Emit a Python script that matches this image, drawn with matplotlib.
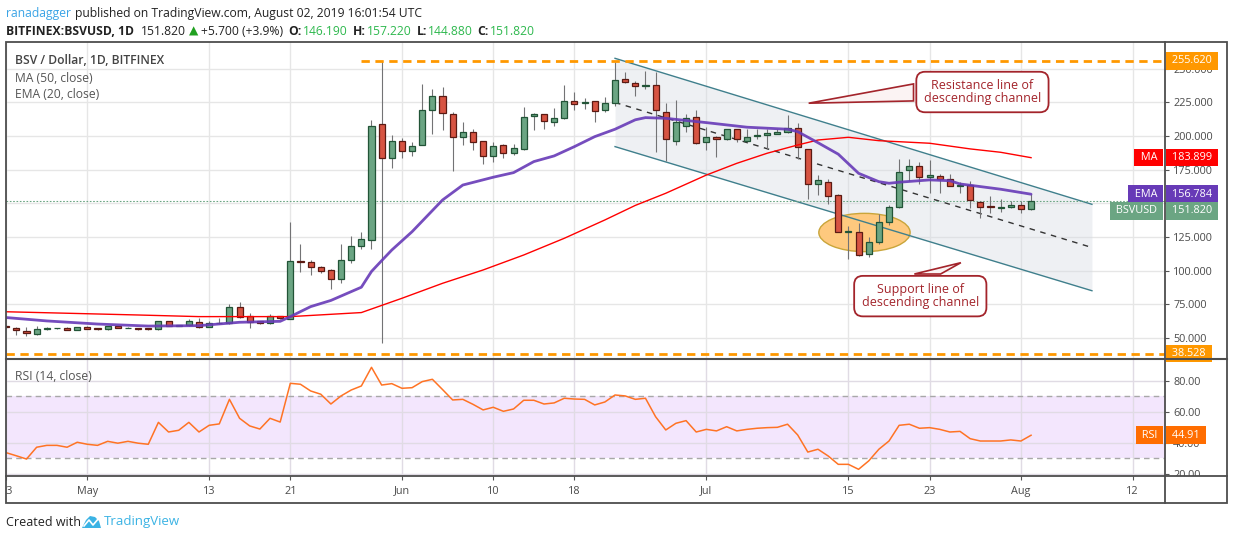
import matplotlib
matplotlib.use("Agg")
import matplotlib.pyplot as plt
import matplotlib.dates as mdates
from matplotlib.patches import Ellipse, Polygon, Rectangle
from matplotlib.ticker import FixedLocator, FixedFormatter, FormatStrFormatter
from matplotlib.transforms import Bbox, IdentityTransform, TransformedBbox
import numpy as np
import pandas as pd

plt.rcParams['font.family'] = ['Open Sans', 'DejaVu Sans']

# ─────────────────────────────────────────────
# DATA: BSV/USD daily candles (Bitfinex), Apr 23 .. Aug 2 2019
# ─────────────────────────────────────────────
dates = pd.date_range('2019-04-23', '2019-08-02', freq='D')

opens = [59.0, 57.6, 55.3, 52.8, 56.6, 57.3, 57.6, 56.4, 58.6, 57.6,
         56.6, 58.8, 57.5, 57.3, 57.6, 56.6, 62.5, 59.0, 59.5, 61.7,
         58.4, 61.0, 61.0, 73.0, 66.3, 62.5, 61.0, 66.3, 64.5, 107.2,
         106.3, 102.6, 100.4, 93.7, 107.8, 118.2, 122.6, 208.7, 183.5, 196.0,
         188.6, 193.0, 219.0, 230.0, 216.0, 199.0, 202.7, 196.0, 184.9, 193.5,
         187.2, 190.0, 214.6, 216.1, 210.2, 213.1, 225.7, 224.3, 225.7, 219.0,
         224.3, 242.0, 239.1, 237.1, 237.6, 217.6, 196.0, 207.2, 214.3, 195.3,
         199.5, 197.6, 205.0, 196.0, 200.3, 200.5, 201.5, 202.7, 205.7, 190.1,
         164.2, 166.1, 156.0, 128.8, 129.0, 112.2, 121.1, 136.0, 147.1, 174.6,
         178.0, 169.4, 170.3, 168.1, 162.9, 163.6, 151.3, 147.9, 146.4, 147.1,
         148.6, 146.19]
highs = [59.5, 58.0, 58.3, 58.8, 58.0, 57.8, 58.0, 58.6, 59.0, 57.9,
         59.3, 59.2, 58.0, 57.6, 57.9, 63.0, 62.8, 59.9, 64.0, 65.2,
         62.8, 65.2, 75.7, 76.5, 68.5, 62.8, 68.0, 66.6, 136.0, 119.9,
         108.3, 103.8, 101.6, 119.9, 125.6, 128.8, 211.6, 255.62, 200.7, 198.4,
         195.5, 238.6, 234.6, 236.1, 218.0, 210.4, 205.0, 196.5, 195.5, 193.8,
         193.8, 221.3, 217.4, 216.5, 220.5, 237.8, 232.4, 228.0, 226.0, 229.0,
         255.0, 247.5, 241.0, 248.0, 247.5, 224.5, 226.7, 216.1, 219.0, 206.5,
         199.8, 205.3, 205.3, 205.0, 205.0, 205.0, 205.5, 215.6, 209.4, 190.3,
         170.8, 167.8, 157.0, 133.2, 135.7, 125.3, 142.1, 148.6, 183.2, 183.0,
         180.7, 182.2, 171.8, 171.8, 165.7, 166.5, 151.5, 155.7, 153.0, 151.8,
         151.8, 157.22]
lows = [57.5, 52.4, 51.6, 52.5, 56.4, 57.0, 56.0, 56.2, 56.8, 56.3,
        56.4, 57.5, 57.2, 56.3, 56.3, 56.4, 58.8, 58.8, 59.3, 57.5,
        58.2, 60.8, 60.8, 65.0, 57.5, 60.8, 60.8, 64.0, 64.0, 99.3,
        96.6, 98.3, 86.7, 90.7, 105.8, 115.9, 115.9, 46.7, 176.5, 184.0,
        184.9, 193.0, 201.7, 204.7, 174.3, 193.5, 189.8, 179.5, 181.0, 183.5,
        186.0, 189.8, 204.2, 205.4, 207.6, 212.8, 219.0, 220.0, 210.6, 217.6,
        222.0, 239.5, 229.9, 234.6, 188.1, 181.2, 193.5, 203.2, 194.3, 189.8,
        184.6, 197.3, 195.5, 195.8, 197.6, 190.1, 201.3, 202.5, 183.2, 153.0,
        156.0, 149.3, 128.4, 108.5, 111.3, 110.0, 119.7, 134.0, 146.9, 166.8,
        164.2, 157.5, 157.5, 162.7, 157.5, 146.4, 139.0, 143.1, 143.8, 146.4,
        142.7, 144.88]
closes = [58.0, 56.1, 53.8, 56.6, 57.6, 57.4, 56.4, 58.3, 57.1, 56.6,
          58.8, 57.8, 57.7, 56.6, 56.6, 62.5, 59.0, 59.6, 62.5, 58.4,
          61.0, 61.3, 73.0, 66.0, 62.3, 61.0, 66.3, 64.8, 107.0, 106.8,
          102.6, 100.1, 93.7, 107.8, 118.2, 123.4, 207.2, 183.5, 196.0, 188.6,
          192.8, 219.0, 229.4, 217.0, 199.0, 202.7, 195.3, 184.9, 192.8, 187.2,
          190.9, 213.9, 216.1, 210.9, 213.1, 225.7, 223.5, 225.0, 218.3, 224.3,
          241.3, 239.8, 236.9, 237.8, 219.0, 197.6, 210.2, 213.6, 194.6, 199.5,
          197.6, 205.0, 197.6, 199.5, 200.7, 202.0, 203.2, 205.7, 191.6, 164.2,
          167.4, 155.3, 128.6, 129.2, 111.5, 121.1, 136.0, 147.1, 173.5, 177.5,
          169.4, 170.9, 167.9, 162.9, 163.6, 152.5, 147.6, 147.1, 147.1, 148.6,
          146.12, 151.82]

rsi14 = [33.7, 31.7, 29.6, 37.2, 38.4, 38.4, 37.2, 40.4, 39.1, 38.4,
         41.0, 39.8, 41.0, 39.8, 39.1, 53.2, 47.0, 48.1, 53.2, 47.0,
         51.3, 52.2, 68.0, 55.8, 50.9, 48.9, 55.8, 53.4, 78.3, 77.7,
         73.4, 71.3, 65.0, 70.2, 74.0, 76.6, 88.6, 77.2, 78.1, 75.1,
         75.5, 79.4, 80.9, 74.3, 67.6, 68.0, 64.8, 61.2, 62.9, 60.3,
         61.8, 67.4, 67.4, 65.0, 65.7, 68.7, 68.2, 68.0, 64.4, 66.3,
         70.8, 70.2, 68.0, 68.7, 56.8, 48.3, 52.6, 54.3, 47.0, 48.7,
         47.7, 50.4, 47.7, 48.7, 49.4, 49.8, 50.0, 52.0, 45.1, 34.1,
         35.9, 31.6, 26.2, 26.2, 23.0, 28.4, 35.9, 41.2, 51.3, 52.0,
         49.4, 49.8, 48.7, 47.0, 47.4, 42.7, 41.2, 41.2, 41.2, 41.9,
         41.2, 44.91]

# MA(50) and EMA(20)
ma50_dates = ['2019-04-23', '2019-04-29', '2019-05-06', '2019-05-12', '2019-05-21',
              '2019-05-28', '2019-06-01', '2019-06-05', '2019-06-09', '2019-06-13',
              '2019-06-17', '2019-06-21', '2019-06-24', '2019-06-27', '2019-07-01',
              '2019-07-04', '2019-07-07', '2019-07-10', '2019-07-12', '2019-07-15',
              '2019-07-18', '2019-07-23', '2019-07-27', '2019-07-30', '2019-08-02']
ma50_vals = [69.6, 68.5, 67.2, 66.0, 66.0, 69.0, 79.6, 90.7, 100.6, 111.7,
             124.1, 137.7, 148.5, 157.5, 171.0, 179.7, 187.2, 193.3, 197.0, 199.0,
             196.5, 194.6, 190.4, 187.9, 183.9]

ema20_dates = ['2019-04-23', '2019-04-27', '2019-05-02', '2019-05-07', '2019-05-12',
               '2019-05-16', '2019-05-20', '2019-05-21', '2019-05-23', '2019-05-25',
               '2019-05-28', '2019-05-29', '2019-05-30', '2019-05-31', '2019-06-02',
               '2019-06-05', '2019-06-07', '2019-06-10', '2019-06-12', '2019-06-14',
               '2019-06-16', '2019-06-18', '2019-06-20', '2019-06-22', '2019-06-24',
               '2019-06-25', '2019-06-27', '2019-07-01', '2019-07-05', '2019-07-09',
               '2019-07-10', '2019-07-12', '2019-07-14', '2019-07-16', '2019-07-18',
               '2019-07-19', '2019-07-20', '2019-07-23', '2019-07-25', '2019-07-26',
               '2019-07-30', '2019-08-02']
ema20_vals = [65.3, 62.8, 60.5, 59.0, 59.3, 61.8, 62.5, 66.0, 73.4, 78.0,
              87.8, 99.5, 107.5, 115.4, 129.0, 152.5, 163.6, 169.4, 172.8, 181.0,
              185.2, 192.1, 199.5, 205.0, 212.0, 213.6, 213.1, 209.9, 206.5, 205.0,
              203.2, 195.0, 186.5, 172.3, 166.1, 164.9, 165.7, 167.4, 166.8, 164.4,
              160.5, 156.8]

tick_dates = ['2019-04-23', '2019-05-01', '2019-05-13', '2019-05-21', '2019-06-01',
              '2019-06-10', '2019-06-18', '2019-07-01', '2019-07-15', '2019-07-23',
              '2019-08-01', '2019-08-12']
tick_labels = ['23', 'May', '13', '21', 'Jun', '10', '18', 'Jul', '15', '23', 'Aug', '12']
price_ticks = [50, 75, 100, 125, 150, 175, 200, 225, 250]
# 150.000 sits fully under the EMA / BSVUSD tags in the snapshot
price_labels = ['50.000', '75.000', '100.000', '125.000', '', '175.000',
                '200.000', '225.000', '250.000']
rsi_ticks = [20, 40, 60, 80]

last_close = 151.82
ma_last = 183.899
ema_last = 156.784
rsi_last = 44.91
range_high = 255.62
range_low = 38.528

# hand drawn descending channel (two anchor dates)
chan_dates = ['2019-06-22', '2019-08-08']
chan_upper = [257.6, 149.3]
chan_lower = [192.1, 85.2]

# ─────────────────────────────────────────────
# FIGURE LAYOUT (pixel boxes of the TradingView snapshot)
# ─────────────────────────────────────────────
W, H = 1234, 540
fig = plt.figure(figsize=(W / 100, H / 100), dpi=100)


def frac(x0, y0, x1, y1):
    return [x0 / W, 1 - y1 / H, (x1 - x0) / W, (y1 - y0) / H]


ax = fig.add_axes(frac(6, 42, 1165, 358))
rs = fig.add_axes(frac(6, 360, 1165, 476), sharex=ax)

d = lambda s: mdates.date2num(pd.Timestamp(s))
x = mdates.date2num(dates.to_pydatetime())
o, h, l, c = map(np.array, (opens, highs, lows, closes))

GRID = '#e6e6e6'
TXT = '#4a4a4a'
UP, UP_E = '#6ba583', '#225437'
DN, DN_E = '#d75442', '#5b1a13'

# ─────────────────────────────────────────────
# PRICE PANE
# ─────────────────────────────────────────────
ax.set_xlim(x[0] - 0.02, x[0] + 114.2)
ax.set_ylim(35.3, 269.7)
for a in (ax, rs):
    for s in a.spines.values():
        s.set_visible(False)
    a.set_axisbelow(True)
    a.xaxis.set_major_locator(FixedLocator([d(t) for t in tick_dates]))
    a.grid(True, color=GRID, lw=1)

# channel + highlight ellipse
cx = [d(t) for t in chan_dates]
mid = [(u + v) / 2 for u, v in zip(chan_upper, chan_lower)]
ax.fill_between(cx, chan_lower, chan_upper, color='#d5dbe3', alpha=0.4, lw=0, zorder=1)
ax.add_patch(Ellipse((d('2019-07-16 14:00'), 128.4), 9.0, 28.4,
                     fc='#fec97e', ec='#c9a53a', lw=1, zorder=1.5))
ax.plot(cx, chan_upper, color='#3f7f8c', lw=1, zorder=2)
ax.plot(cx, chan_lower, color='#3f7f8c', lw=1, zorder=2)
ax.plot(cx, mid, color='#333333', lw=1, ls=(0, (4, 4)), zorder=2)

# range high / low and last price
ax.hlines(range_high, d('2019-05-28'), x[0] + 114.2, color='#ff9800', lw=2,
          ls=(0, (3, 2)), zorder=5)
ax.axhline(range_low, color='#ff9800', lw=2, ls=(0, (3, 2)), zorder=5)
ax.axhline(last_close, color=UP, lw=0.8, ls=(0, (1.5, 1.5)), zorder=2)

# candles
up = c >= o
body = np.maximum(np.abs(c - o), 0.4)
bottom = np.minimum(o, c)
ax.vlines(x, l, h, color='#737375', lw=0.8, zorder=3)
ax.bar(x[up], body[up], bottom=bottom[up], width=0.6, color=UP, edgecolor=UP_E, lw=0.9, zorder=4)
ax.bar(x[~up], body[~up], bottom=bottom[~up], width=0.6, color=DN, edgecolor=DN_E, lw=0.9, zorder=4)

# moving averages
ax.plot([d(t) for t in ma50_dates], ma50_vals, color='#ff0000', lw=1, zorder=5)
ax.plot([d(t) for t in ema20_dates], ema20_vals, color='#673ab7', lw=2.0, alpha=0.9,
        solid_capstyle='round', zorder=5)

# callouts
RED = '#a3242b'
ax.add_patch(Polygon([(d('2019-07-11 02:00'), 224.3), (d('2019-07-21 10:00'), 238.6),
                      (d('2019-07-21 10:00'), 226.0)], closed=True,
                     fc='#fbf3f3', ec=RED, lw=1.2, zorder=6))
ax.add_patch(Polygon([(d('2019-07-26 02:00'), 106.0), (d('2019-07-21 12:00'), 97.6),
                      (d('2019-07-24 02:00'), 97.6)], closed=True,
                     fc='#fbf3f3', ec=RED, lw=1.2, zorder=6))
box = dict(boxstyle='round,pad=0.6,rounding_size=0.7', fc='white', ec=RED, lw=1.3)
ax.text(d('2019-07-28 05:00'), 232.6, 'Resistance line of\ndescending channel',
        color=RED, fontsize=9, ha='center', va='center', linespacing=0.95,
        bbox=box, zorder=7)
ax.text(d('2019-07-22 02:00'), 81.2, 'Support line of\ndescending channel',
        color=RED, fontsize=9, ha='center', va='center', linespacing=0.95,
        bbox=box, zorder=7)

# right price scale
ax.yaxis.tick_right()
ax.yaxis.set_major_locator(FixedLocator(price_ticks))
ax.yaxis.set_major_formatter(FixedFormatter(price_labels))
ax.tick_params(axis='y', length=2.9, color='#555555', labelsize=7.8, labelcolor=TXT, pad=3)
ax.tick_params(axis='x', length=0, labelbottom=False)


def tag(a, value, text, color, name=None, dy=0):
    kw = dict(xy=(1, value), xycoords=('axes fraction', 'data'), textcoords='offset pixels',
              va='center', fontsize=7.8, color='white', annotation_clip=False, zorder=10,
              bbox=dict(boxstyle='square,pad=0.3', fc=color, ec='none'))
    a.annotate(f' {text} ', xytext=(4, dy), ha='left', **kw)
    if name:
        a.annotate(f' {name} ', xytext=(-5, dy), ha='right', **kw)


tag(ax, range_high, f'{range_high:.3f}', '#ff9800')
tag(ax, range_low, f'{range_low:.3f}', '#ff9800')
tag(ax, ma_last, f'{ma_last:.3f}', '#ff0000', 'MA')
tag(ax, ema_last, f'{ema_last:.3f}', '#673ab7', 'EMA')
tag(ax, last_close, f'{last_close:.3f}', UP, 'BSVUSD', dy=-10)

# ─────────────────────────────────────────────
# RSI PANE
# ─────────────────────────────────────────────
rs.set_ylim(18.7, 93.3)
rs.axhspan(30, 70, color='#f3e6fd', lw=0, zorder=0)
rs.grid(True, color='#e0dbe4', lw=1)
for lvl in (30, 70):
    rs.axhline(lvl, color='#a8a8a8', lw=1, ls=(0, (4, 3)), zorder=1)
rs.plot(x, rsi14, color='#ff7324', lw=1.1, zorder=3)
rs.yaxis.tick_right()
rs.yaxis.set_major_locator(FixedLocator(rsi_ticks))
rs.yaxis.set_major_formatter(FormatStrFormatter('%.2f'))
rs.tick_params(axis='y', length=2.9, color='#555555', labelsize=7.8, labelcolor=TXT, pad=3)
rs.set_xticklabels(tick_labels)
rs.tick_params(axis='x', length=2.9, color='#555555', labelsize=7.8, labelcolor=TXT, pad=4)
tag(rs, rsi_last, f'{rsi_last:.2f}', '#ff6d00', 'RSI')

# ─────────────────────────────────────────────
# OVERLAY: frame, header, legends, footer (pixel coords)
# ─────────────────────────────────────────────
ov = fig.add_axes([0, 0, 1, 1])
ov.set_xlim(0, W)
ov.set_ylim(H, 0)
ov.axis('off')
FRAME = '#4d4d4d'
ov.add_patch(Rectangle((6, 42), 1221, 461, fill=False, ec=FRAME, lw=1.3))
ov.plot([1165, 1165], [42, 503], color=FRAME, lw=1.3)
ov.plot([6, 1227], [359, 359], color=FRAME, lw=1.5)
ov.plot([6, 1227], [476, 476], color=FRAME, lw=1.3)

DARK = '#222222'
GREEN = '#2db84d'
renderer = fig.canvas.get_renderer()


def text_run(px, py, parts, size):
    # lay pieces out left to right, each after the previous one's measured width
    for s, col, wt, gap in parts:
        t = ov.text(px, py, s, color=col, fontsize=size, fontweight=wt, va='baseline')
        px += t.get_window_extent(renderer).width + gap


text_run(6, 17, [('ranadagger', '#3ba4e6', 'normal', 4),
                 ('published on TradingView.com, August 02, 2019 16:01:54 UTC',
                  DARK, 'normal', 0)], 8.7)
text_run(6, 35, [('BITFINEX:BSVUSD, 1D', DARK, 'bold', 7),
                 ('151.820', DARK, 'normal', 3),
                 ('▲', '#20a020', 'normal', 3),
                 ('+5.700 (+3.9%)', DARK, 'normal', 5),
                 ('O:', DARK, 'bold', 1), ('146.190', GREEN, 'normal', 5),
                 ('H:', DARK, 'bold', 1), ('157.220', GREEN, 'normal', 5),
                 ('L:', DARK, 'bold', 1), ('144.880', GREEN, 'normal', 5),
                 ('C:', DARK, 'bold', 1), ('151.820', GREEN, 'normal', 0)], 8.7)

ov.text(15, 60, 'BSV / Dollar, 1D, BITFINEX', color='#444444', fontsize=8.7,
        fontweight='semibold', va='center')
ov.text(15, 78, 'MA (50, close)', color='#555555', fontsize=8.7, va='center')
ov.text(15, 95, 'EMA (20, close)', color='#555555', fontsize=8.7, va='center')
ov.text(15, 377, 'RSI (14, close)', color='#555555', fontsize=8.7, va='center')

ov.text(6, 522, 'Created with', color=DARK, fontsize=9, va='center')
ov.add_patch(Polygon([(82, 528), (86, 520), (90, 516), (95, 517), (99, 521), (101, 528)],
                     closed=True, fc='#3bb3e4', ec='none'))
ov.plot([84, 89, 93, 99], [526, 520, 525, 518], color='white', lw=1.2)
ov.text(104, 522, 'TradingView', color='#3bb3e4', fontsize=9.5, va='center')

# clip tick labels at pane borders like the original
fig.canvas.draw()
clip_x = TransformedBbox(Bbox.from_extents(6, H - 503, 1165, H - 476), IdentityTransform())
clip_r = TransformedBbox(Bbox.from_extents(1165, H - 476, 1227, H - 360), IdentityTransform())
for lab in rs.get_xticklabels():
    lab.set_clip_box(clip_x)
    lab.set_clip_on(True)
for lab in rs.get_yticklabels():
    lab.set_clip_box(clip_r)
    lab.set_clip_on(True)

fig.savefig('out.png', dpi=100)
